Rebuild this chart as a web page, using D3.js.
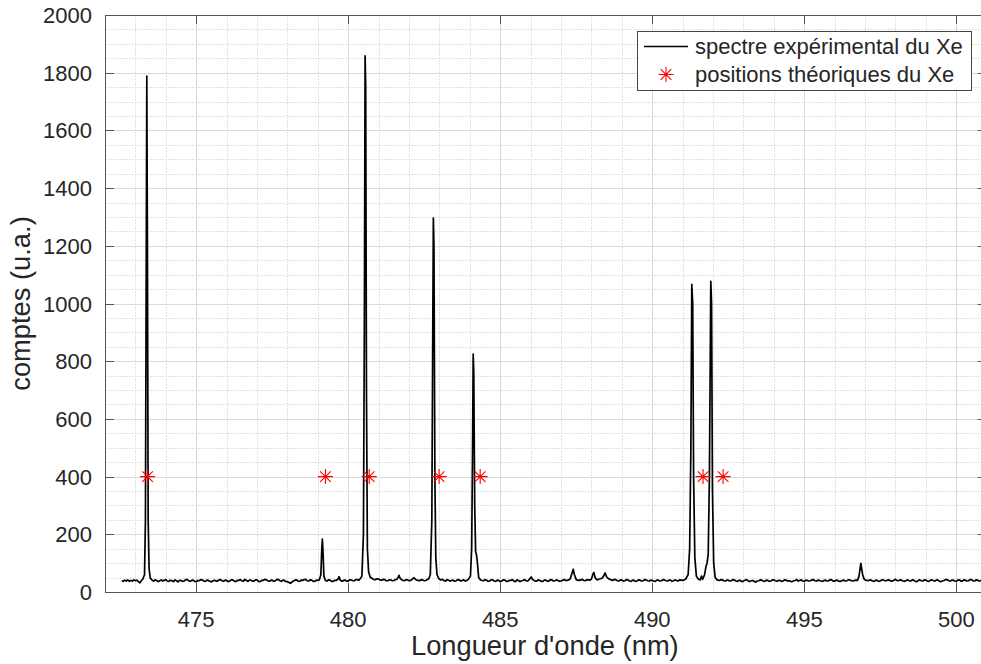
<!DOCTYPE html>
<html>
<head>
<meta charset="utf-8">
<script src="https://cdn.jsdelivr.net/npm/d3@7"></script>
<style>
html,body{margin:0;padding:0;background:#fff;}
svg{display:block;}
text{font-family:"Liberation Sans",Arial,Helvetica,sans-serif;fill:#262626;}
</style>
</head>
<body>
<svg id="chart" width="981" height="664"></svg>
<script>
// ---- data ----
const xTicks = [475, 480, 485, 490, 495, 500];
const yTicks = [0, 200, 400, 600, 800, 1000, 1200, 1400, 1600, 1800, 2000];
const xLabel = "Longueur d'onde (nm)";
const yLabel = "comptes (u.a.)";
const legendLabels = ["spectre expérimental du Xe", "positions théoriques du Xe"];

// theoretical Xe line positions (nm) and their plotted level
const theoPositions = [473.4, 479.25, 480.69, 482.99, 484.34, 491.67, 492.33];
const theoLevel = [400, 400, 400, 400, 400, 400, 400];

// experimental spectrum: [wavelength nm, counts]
const spectrum = [
[472.55,39],[472.6,37],[472.65,41],[472.7,38],[472.75,42],[472.8,37],[472.85,40],[472.9,38],[472.95,42],[473.0,39],[473.05,41],[473.1,36],[473.15,32],[473.2,40],[473.24,44],
[473.3,60],[473.33,250],[473.355,1100],[473.375,1788],[473.395,1200],[473.42,250],[473.45,80],[473.49,48],
[473.55,41],[473.6,38],[473.65,42],[473.7,40],[473.75,36],[473.8,39],[473.85,42],[473.9,38],[473.95,41],[474.0,43],[474.05,38],[474.1,37],[474.15,41],[474.2,39],[474.25,36],[474.3,42],[474.35,39],[474.4,35],[474.45,40],[474.5,40],[474.55,37],[474.6,38],[474.65,42],[474.7,44],[474.75,39],[474.8,37],[474.85,40],[474.9,41],[474.95,37],[475.0,36],[475.05,40],[475.1,39],[475.15,43],[475.2,42],[475.25,38],[475.3,37],[475.35,41],[475.4,40],[475.45,37],[475.5,35],[475.55,39],[475.6,41],[475.65,38],[475.7,38],[475.75,42],[475.8,43],[475.85,39],[475.9,37],[475.95,41],[476.0,40],[476.05,36],[476.1,38],[476.15,42],[476.2,42],[476.25,38],[476.3,36],[476.35,40],[476.4,40],[476.45,43],[476.5,39],[476.55,37],[476.6,44],[476.65,40],[476.7,37],[476.75,41],[476.8,41],[476.85,38],[476.9,38],[476.95,42],[477.0,42],[477.05,37],[477.1,36],[477.15,40],[477.2,40],[477.25,44],[477.3,43],[477.35,39],[477.4,37],[477.45,40],[477.5,41],[477.55,37],[477.6,39],[477.65,43],[477.7,44],[477.75,39],[477.8,37],[477.85,41],[477.9,40],[477.95,36],[478.0,36],[478.05,33],[478.1,30],[478.15,35],[478.2,38],[478.25,41],[478.3,42],[478.35,38],[478.4,37],[478.45,41],[478.5,40],[478.55,43],[478.6,44],[478.65,39],[478.7,38],[478.75,42],[478.8,41],[478.85,37],[478.9,37],[478.95,41],[479.0,40],[479.05,42],
[479.1,60],[479.13,150],[479.15,183],[479.17,140],[479.2,55],[479.25,40],
[479.3,38],[479.35,42],[479.4,41],[479.45,37],[479.5,37],[479.55,40],[479.6,40],[479.66,44],[479.7,53],[479.74,41],[479.8,37],[479.85,40],[479.9,41],[479.95,38],[480.0,38],[480.05,42],[480.1,42],[480.15,39],[480.2,39],[480.25,43],[480.3,43],[480.35,41],[480.4,47],
[480.45,55],[480.5,200],[480.53,900],[480.555,1858],[480.575,1750],[480.6,700],[480.63,150],[480.67,70],[480.72,52],
[480.8,46],[480.85,43],[480.9,43],[480.95,46],[481.0,45],[481.05,41],[481.1,41],[481.15,44],[481.2,43],[481.25,39],[481.3,39],[481.35,42],[481.4,42],[481.45,39],[481.5,40],[481.55,43],[481.6,44],[481.64,50],[481.67,58],[481.71,47],[481.75,43],[481.8,40],[481.85,39],[481.9,43],[481.95,42],[482.0,39],[482.05,40],[482.1,44],[482.16,50],[482.21,44],[482.25,41],[482.3,40],[482.35,39],[482.4,43],[482.45,42],[482.5,39],[482.55,40],[482.6,43],[482.65,46],
[482.7,60],[482.75,250],[482.78,900],[482.8,1296],[482.82,1200],[482.85,400],[482.88,120],[482.92,60],[482.98,46],
[483.05,42],[483.1,44],[483.15,40],[483.2,38],[483.25,43],[483.3,41],[483.35,38],[483.4,40],[483.45,41],[483.5,37],[483.55,39],[483.6,43],[483.65,42],[483.7,38],[483.75,40],[483.8,42],[483.85,38],[483.9,40],[483.95,44],[484.02,55],
[484.06,150],[484.09,500],[484.11,825],[484.13,760],[484.16,300],[484.19,140],[484.22,128],[484.25,100],[484.29,50],
[484.35,42],[484.4,40],[484.45,39],[484.5,43],[484.55,41],[484.6,37],[484.65,38],[484.7,42],[484.75,42],[484.8,38],[484.85,37],[484.9,41],[484.95,40],[485.0,36],[485.05,38],[485.1,42],[485.15,41],[485.2,37],[485.25,37],[485.3,40],[485.35,40],[485.4,43],[485.45,38],[485.5,36],[485.55,42],[485.6,40],[485.65,36],[485.7,39],[485.75,40],[485.8,43],[485.85,39],[485.9,38],[485.95,43],[486.02,52],[486.06,44],
[486.1,41],[486.15,38],[486.2,38],[486.25,42],[486.3,40],[486.35,37],[486.4,37],[486.45,41],[486.5,41],[486.55,38],[486.6,38],[486.65,43],[486.7,42],[486.75,38],[486.8,39],[486.85,42],[486.9,40],[486.95,37],[487.0,38],[487.05,41],[487.1,43],[487.15,40],[487.2,40],[487.25,42],[487.3,45],[487.36,65],[487.4,79],[487.44,60],[487.5,43],
[487.55,41],[487.6,40],[487.65,42],[487.7,44],[487.75,40],[487.8,39],[487.85,43],[487.9,42],[487.95,41],[488.0,45],[488.05,62],[488.08,68],[488.12,50],[488.16,44],[488.2,42],[488.25,45],[488.3,46],[488.35,48],[488.4,55],[488.45,66],[488.5,52],[488.55,47],
[488.6,44],[488.65,42],[488.7,40],[488.75,44],[488.8,43],[488.85,39],[488.9,38],[488.95,42],[489.0,41],[489.05,38],[489.1,39],[489.15,43],[489.2,42],[489.25,38],[489.3,37],[489.35,41],[489.4,40],[489.45,37],[489.5,38],[489.55,42],[489.6,41],[489.65,38],[489.7,39],[489.75,43],[489.8,42],[489.85,39],[489.9,38],[489.95,41],[490.0,40],[490.05,38],[490.1,37],[490.15,41],[490.2,41],[490.25,38],[490.3,39],[490.35,43],[490.4,42],[490.45,39],[490.5,38],[490.55,41],[490.6,41],[490.65,37],[490.7,39],[490.75,42],[490.8,40],[490.85,38],[490.9,42],[490.95,41],[491.0,40],[491.05,42],[491.1,45],
[491.18,60],[491.23,150],[491.27,500],[491.3,1066],[491.33,1000],[491.36,400],[491.4,120],[491.45,55],[491.52,44],[491.58,42],[491.62,55],[491.66,44],[491.72,60],[491.77,90],[491.8,99],[491.84,130],[491.88,400],[491.925,1077],[491.95,1000],[491.98,350],[492.02,100],[492.07,50],[492.13,42],
[492.2,40],[492.25,42],[492.3,43],[492.35,39],[492.4,38],[492.45,41],[492.5,41],[492.55,38],[492.6,39],[492.65,43],[492.7,42],[492.75,38],[492.8,37],[492.85,40],[492.9,40],[492.95,36],[493.0,38],[493.05,41],[493.1,43],[493.15,39],[493.2,36],[493.25,39],[493.3,40],[493.35,37],[493.4,34],[493.45,38],[493.5,39],[493.55,42],[493.6,41],[493.65,38],[493.7,37],[493.75,41],[493.8,40],[493.85,37],[493.9,38],[493.95,42],[494.0,42],[494.05,39],[494.1,37],[494.15,40],[494.2,40],[494.25,37],[494.3,38],[494.35,42],[494.4,41],[494.45,38],[494.5,39],[494.55,37],[494.6,36],[494.65,39],[494.7,40],[494.75,43],[494.8,38],[494.85,40],[494.9,42],[494.95,38],[495.0,37],[495.05,41],[495.1,40],[495.15,38],[495.2,39],[495.25,42],[495.3,43],[495.35,39],[495.4,38],[495.45,41],[495.5,40],[495.55,38],[495.6,37],[495.65,40],[495.7,41],[495.75,38],[495.8,39],[495.85,43],[495.9,42],[495.95,38],[496.0,38],[496.05,41],[496.1,40],[496.15,37],[496.2,37],[496.25,40],[496.3,41],[496.35,38],[496.4,39],[496.45,42],[496.5,42],[496.55,39],[496.6,38],[496.65,40],[496.7,41],[496.75,40],[496.8,55],[496.86,99],[496.92,60],[496.97,44],
[497.0,42],[497.05,40],[497.1,39],[497.15,42],[497.2,41],[497.25,38],[497.3,37],[497.35,41],[497.4,40],[497.45,37],[497.5,38],[497.55,42],[497.6,42],[497.65,39],[497.7,39],[497.75,42],[497.8,41],[497.85,38],[497.9,38],[497.95,41],[498.0,44],[498.05,40],[498.1,39],[498.15,42],[498.2,41],[498.25,38],[498.3,37],[498.35,40],[498.4,42],[498.45,39],[498.5,38],[498.55,42],[498.6,41],[498.65,37],[498.7,36],[498.75,40],[498.8,42],[498.85,39],[498.9,38],[498.95,42],[499.0,41],[499.05,38],[499.1,37],[499.15,41],[499.2,42],[499.25,39],[499.3,38],[499.35,42],[499.4,41],[499.45,37],[499.5,36],[499.55,39],[499.6,40],[499.65,43],[499.7,43],[499.75,39],[499.8,38],[499.85,41],[499.9,41],[499.95,38],[500.0,37],[500.05,41],[500.1,42],[500.15,38],[500.2,38],[500.25,42],[500.3,41],[500.35,38],[500.4,39],[500.45,43],[500.5,43],[500.55,39],[500.6,38],[500.65,42],[500.7,41],[500.75,38],[500.8,39],[500.85,43],[500.9,42],[500.95,39],[501.0,40]
];

// ---- layout ----
const svg = d3.select("#chart");
const pLeft = 105, pTop = 15, pBottom = 592, pRight = 986.7;
const x = d3.scaleLinear().domain([472, 501]).range([pLeft, pRight]);
const y = d3.scaleLinear().domain([0, 2000]).range([pBottom, pTop]);

svg.append("defs").append("clipPath").attr("id", "clip")
  .append("rect").attr("x", pLeft).attr("y", pTop).attr("width", pRight - pLeft).attr("height", pBottom - pTop);

// grid: minor
const gMinor = svg.append("g");
d3.range(472, 501.001, 1).forEach(v => {
  if (v % 5 === 0) return;
  gMinor.append("line").attr("x1", Math.round(x(v)) + 0.5).attr("x2", Math.round(x(v)) + 0.5)
    .attr("y1", pTop).attr("y2", pBottom).attr("stroke", "#e2e2e2").attr("stroke-width", 1).attr("stroke-dasharray", "2,1");
});
d3.range(0, 2001, 50).forEach(v => {
  if (v % 200 === 0) return;
  gMinor.append("line").attr("y1", Math.round(y(v)) + 0.5).attr("y2", Math.round(y(v)) + 0.5)
    .attr("x1", pLeft).attr("x2", pRight).attr("stroke", "#e2e2e2").attr("stroke-width", 1).attr("stroke-dasharray", "2,1");
});
// grid: major
const gMajor = svg.append("g");
xTicks.forEach(v => {
  gMajor.append("line").attr("x1", Math.round(x(v)) + 0.5).attr("x2", Math.round(x(v)) + 0.5)
    .attr("y1", pTop).attr("y2", pBottom).attr("stroke", "#d9d9d9").attr("stroke-width", 1);
});
yTicks.forEach(v => {
  gMajor.append("line").attr("y1", Math.round(y(v)) + 0.5).attr("y2", Math.round(y(v)) + 0.5)
    .attr("x1", pLeft).attr("x2", pRight).attr("stroke", "#d9d9d9").attr("stroke-width", 1);
});

// spectrum line
const line = d3.line().x(d => x(d[0])).y(d => y(d[1]));
svg.append("path").datum(spectrum).attr("clip-path", "url(#clip)")
  .attr("d", line).attr("fill", "none").attr("stroke", "#000").attr("stroke-width", 1.7)
  .attr("stroke-linejoin", "round");

// asterisk markers
function asterisk(g, cx, cy, r) {
  const a = r * Math.SQRT1_2;
  const p = `M${cx - r},${cy}L${cx + r},${cy}M${cx},${cy - r}L${cx},${cy + r}` +
            `M${cx - a},${cy - a}L${cx + a},${cy + a}M${cx - a},${cy + a}L${cx + a},${cy - a}`;
  g.append("path").attr("d", p).attr("stroke", "#ff0000").attr("stroke-width", 1.1).attr("fill", "none");
}
const gStars = svg.append("g");
theoPositions.forEach((v, i) => asterisk(gStars, x(v), y(theoLevel[i]), 7.5));

// axes box & ticks
const axisColor = "#555";
const gAx = svg.append("g");
gAx.append("line").attr("x1", pLeft).attr("x2", pRight).attr("y1", pBottom + 0.5).attr("y2", pBottom + 0.5).attr("stroke", axisColor);
gAx.append("line").attr("x1", pLeft).attr("x2", pRight).attr("y1", pTop + 0.5).attr("y2", pTop + 0.5).attr("stroke", axisColor);
gAx.append("line").attr("x1", pLeft + 0.5).attr("x2", pLeft + 0.5).attr("y1", pTop).attr("y2", pBottom).attr("stroke", axisColor);
gAx.append("line").attr("x1", pRight - 0.5).attr("x2", pRight - 0.5).attr("y1", pTop).attr("y2", pBottom).attr("stroke", axisColor);
const tl = 9;
xTicks.forEach(v => {
  const px = Math.round(x(v)) + 0.5;
  gAx.append("line").attr("x1", px).attr("x2", px).attr("y1", pBottom).attr("y2", pBottom - tl).attr("stroke", axisColor);
  gAx.append("line").attr("x1", px).attr("x2", px).attr("y1", pTop).attr("y2", pTop + tl).attr("stroke", axisColor);
  gAx.append("text").attr("x", x(v)).attr("y", pBottom + 35).attr("text-anchor", "middle")
    .attr("font-size", 22).text(v);
});
yTicks.forEach(v => {
  const py = Math.round(y(v)) + 0.5;
  gAx.append("line").attr("x1", pLeft).attr("x2", pLeft + tl).attr("y1", py).attr("y2", py).attr("stroke", axisColor);
  gAx.append("line").attr("x1", pRight).attr("x2", pRight - tl).attr("y1", py).attr("y2", py).attr("stroke", axisColor);
  gAx.append("text").attr("x", 92).attr("y", y(v) + 8).attr("text-anchor", "end")
    .attr("font-size", 22).text(v);
});

// axis labels
svg.append("text").attr("x", (pLeft + pRight) / 2 - 1).attr("y", 655).attr("text-anchor", "middle")
  .attr("font-size", 27.3).text(xLabel);
svg.append("text").attr("transform", `translate(30,${(pTop + pBottom) / 2}) rotate(-90)`)
  .attr("text-anchor", "middle").attr("font-size", 27.3).text(yLabel);

// legend
const lg = svg.append("g");
lg.append("rect").attr("x", 637.5).attr("y", 31.5).attr("width", 334).attr("height", 59)
  .attr("fill", "#fff").attr("stroke", "#444").attr("stroke-width", 1);
lg.append("line").attr("x1", 644).attr("x2", 688).attr("y1", 46.5).attr("y2", 46.5).attr("stroke", "#000").attr("stroke-width", 1.5);
lg.append("text").attr("x", 695).attr("y", 54).attr("font-size", 22).text(legendLabels[0]);
asterisk(lg, 666, 74.5, 7.5);
lg.append("text").attr("x", 695).attr("y", 82).attr("font-size", 22).text(legendLabels[1]);
</script>
</body>
</html>
